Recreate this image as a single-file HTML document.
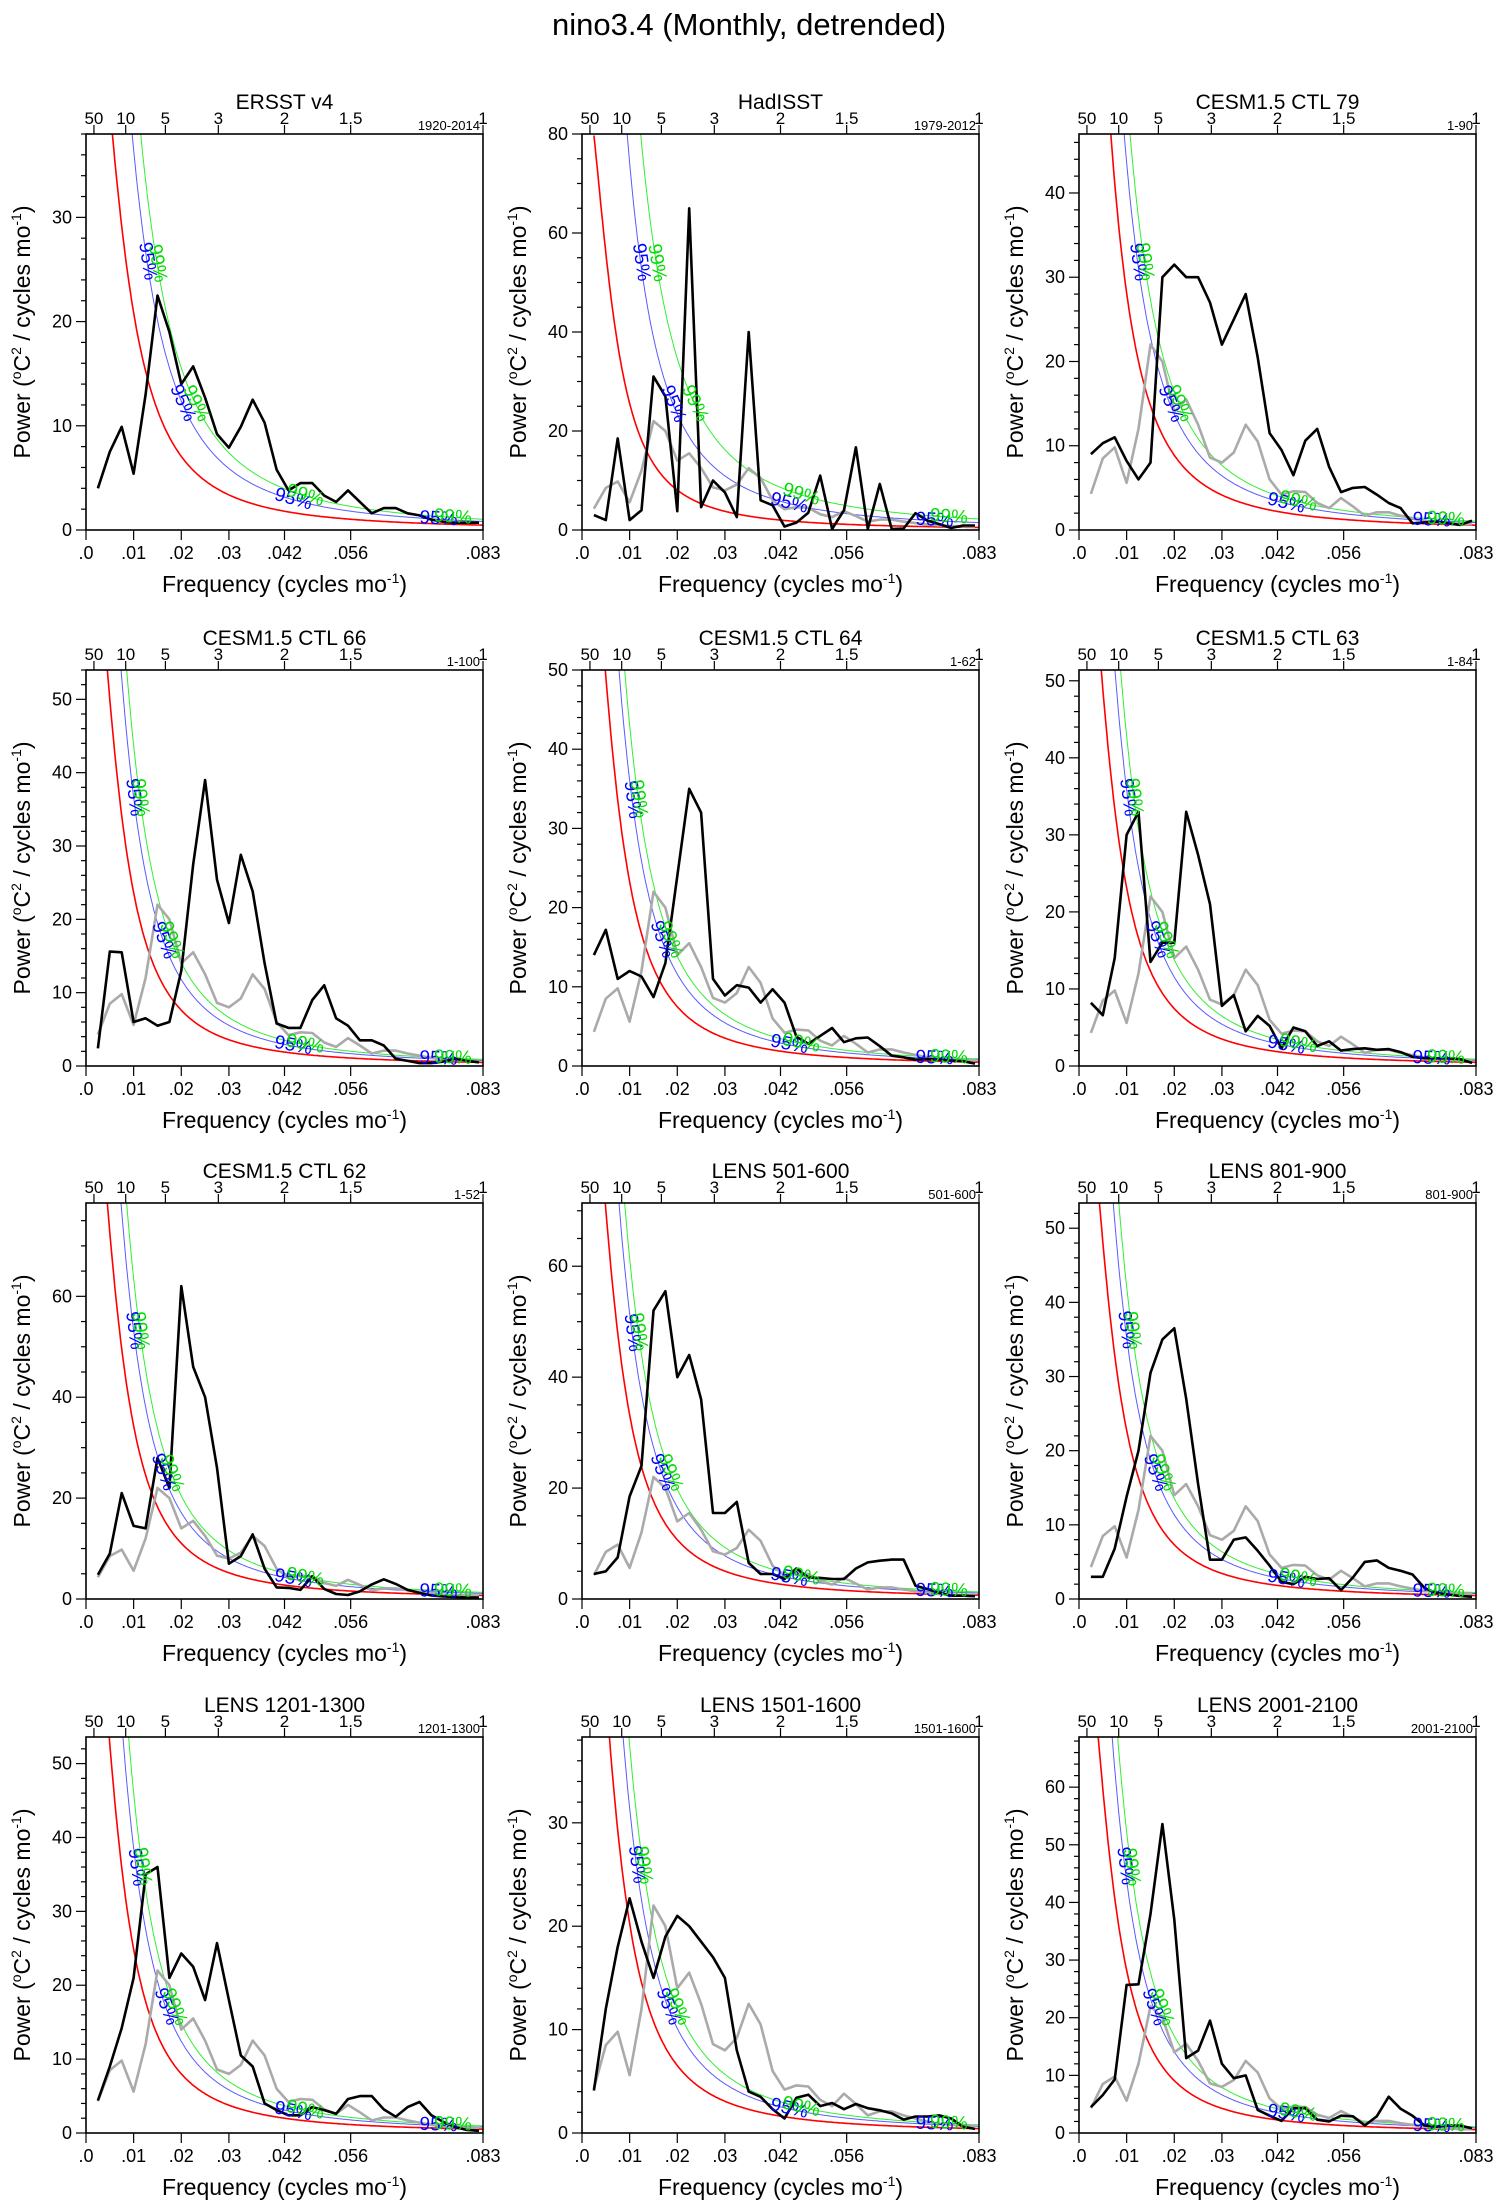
<!DOCTYPE html>
<html><head><meta charset="utf-8">
<style>
html,body{margin:0;padding:0;background:#fff;}
svg{display:block;font-family:"Liberation Sans",Arial,sans-serif;}
</style></head>
<body>
<svg id="c" width="1498" height="2205" viewBox="0 0 1498 2205" xmlns="http://www.w3.org/2000/svg">
<rect x="0" y="0" width="1498" height="2205" fill="#fff"/>
<text x="749" y="35" font-size="31" text-anchor="middle" fill="#000">nino3.4 (Monthly, detrended)</text>
</svg>
<script>
// frequency grid: f_k = freqStep*(k+1)
const freqStep = 0.0025;
const ersstV4 = [4.0,7.5,9.9,5.4,13,22.5,19,14,15.7,12.7,9.2,7.9,9.9,12.5,10.3,5.8,3.8,4.5,4.5,3.3,2.7,3.8,2.7,1.6,2.1,2.1,1.6,1.4,1.0,0.8,0.7,0.7,0.7];
const hadIsst = [3,2,18.5,2,4,31,27,3.8,65,4.6,10,7.6,2.6,40,6,5,0.7,1.5,3.5,11,0.2,4,16.7,0.2,9.3,0.2,0.3,3.4,1.9,1.2,0.4,0.9,0.9];
const grayObs = [4.3,8.5,9.8,5.6,12,22,20,14,15.5,12.5,8.6,8,9.2,12.5,10.5,6,4.2,4.6,4.5,3.2,2.6,3.8,2.8,1.7,2.1,2.1,1.7,1.4,1.1,0.9,0.8,0.7,0.7];
const ctl79 = [9,10.3,11,8.2,6,8,30,31.5,30,30,27,22,25,28,20.5,11.5,9.5,6.5,10.6,12,7.5,4.5,5,5.1,4.2,3.2,2.6,0.8,0.9,1.0,0.8,0.6,1.1];
const ctl66 = [2.4,15.6,15.5,6,6.5,5.5,6,13,27.5,39,25.4,19.5,28.8,23.8,14,5.8,5.2,5.2,9,11,6.5,5.5,3.5,3.5,2.8,1,0.7,0.4,0.4,0.6,1,0.7,0.5];
const ctl64 = [14,17.2,11,12,11.3,8.7,13,24,35,32,11,8.9,10.2,9.9,8,9.7,8,3.7,2.8,3.8,4.8,3,3.5,3.6,2.5,1.3,1.1,0.8,0.9,0.8,0.7,0.6,0.3];
const ctl63 = [8.2,6.6,14,30,33,13.5,16,16,33,27.4,21,7.8,9.2,4.5,6.5,5.2,2.3,5,4.5,2.6,3.2,2,2.2,2.3,2.1,2.2,1.8,1.2,1,1,1,0.9,0.4];
const ctl62 = [4.8,9,21,14.5,14,28,22,62,46,40,26,7,8.5,12.8,6,2.3,2.2,1.8,4.5,2,1,0.8,1.5,2.9,3.9,3,1.8,1.2,0.7,0.5,0.4,0.3,0.3];
const lens501 = [4.5,5,7.5,18.5,24,52,55.5,40,44,36,15.5,15.5,17.5,6.5,4.5,4.5,3.6,5.5,3.9,3.8,3.6,3.6,5.5,6.6,6.9,7.1,7.1,2.4,1.8,1.1,0.6,0.6,0.5];
const lens801 = [3,3,6.8,13.8,20,30.5,35,36.5,27,15.5,5.3,5.3,8,8.3,6.5,4.5,2.3,2,3,2.7,2.8,1.2,2.9,5,5.2,4.2,3.8,3.3,1.5,0.8,0.6,0.4,0.3];
const lens1201 = [4.4,9,14.2,21,35,36,21,24.3,22.5,18,25.7,18,10.5,9,4,3.1,2.4,2.4,3.5,3.1,2.6,4.6,5,5,3.2,2.2,3.5,4.2,2.4,1.5,0.8,0.4,0.3];
const lens1501 = [4.1,12,18,22.7,18.5,15,19,21,20,18.5,17,15,8,4,3.5,2.3,1.4,3.4,3.7,2.6,2.9,2.3,2.8,2.4,2.2,1.9,1.3,1.6,1.6,1.7,1.4,0.6,0.4];
const lens2001 = [4.5,6.6,9.3,25.7,25.8,38,53.6,37,13,14.3,19.5,12,9.5,10,4,3,2.1,4.3,4.3,2.3,2,3,2.9,1.3,2.9,6.3,4.2,3,1.3,1.1,1.3,1.3,0.8];

const panelTitles = ["ERSST v4","HadISST","CESM1.5 CTL 79","CESM1.5 CTL 66","CESM1.5 CTL 64","CESM1.5 CTL 63","CESM1.5 CTL 62","LENS 501-600","LENS 801-900","LENS 1201-1300","LENS 1501-1600","LENS 2001-2100"];
const panelPeriods = ["1920-2014","1979-2012","1-90","1-100","1-62","1-84","1-52","501-600","801-900","1201-1300","1501-1600","2001-2100"];
const panelSeries = [ersstV4,hadIsst,ctl79,ctl66,ctl64,ctl63,ctl62,lens501,lens801,lens1201,lens1501,lens2001];
const yMaxes = [38,80,47,54,50,51.4,78.5,71.4,53.4,53.6,38.3,68.7];
const yMajor = [10,20,10,10,10,10,20,20,10,10,10,10];
const yMinor = [2,5,2,2,2,2,5,5,2,2,2,2];
// red-noise (AR1) parameters
const redR = [0.955,0.962,0.962,0.96,0.96,0.96,0.96,0.96,0.96,0.96,0.96,0.96];
const redAt042 = [1.8,2.0,2.2,1.9,1.87,1.86,2.76,2.67,1.83,2.0,1.63,2.27];
const mult95 = [1.75,2.9,1.55,1.55,1.55,1.55,1.55,1.55,1.55,1.55,1.55,1.55];
const mult99 = [2.2,4.3,1.85,1.85,1.85,1.85,1.85,1.85,1.85,1.85,1.85,1.85];
const bottomTickF = [0,0.01,0.02,0.03,1/24,1/18,1/12];
const bottomTickText = [".0",".01",".02",".03",".042",".056",".083"];
const topPeriods = [50,10,5,3,2,1.5,1];
const topPeriodText = ["50","10","5","3","2","1.5","1"];

const NS="http://www.w3.org/2000/svg";
const svg=document.getElementById('c');
const colLeft=[86,582,1079], rowTop=[134,670,1203,1737], W=397, H=396, FMAX=1/12;

function mk(tag,attrs,parent){const e=document.createElementNS(NS,tag);for(const k in attrs)e.setAttribute(k,attrs[k]);(parent||svg).appendChild(e);return e;}

for(let p=0;p<12;p++){
  const L=colLeft[p%3], T=rowTop[Math.floor(p/3)], ymax=yMaxes[p];
  const g=mk('g',{});
  
  
  const X=f=>L+f/FMAX*W;
  const Y=v=>T+H-v/ymax*H;
  const clipId='clip'+p;
  const cp=mk('clipPath',{id:clipId},g);
  mk('rect',{x:L,y:T,width:W,height:H},cp);
  const r=redR[p], d42=1+r*r-2*r*Math.cos(2*Math.PI/24);
  const red=f=>redAt042[p]*d42/(1+r*r-2*r*Math.cos(2*Math.PI*f));
  const fStart = p===1?0.0025:0.00088;
  function curvePath(fn){let s='';for(let i=0;i<=400;i++){const f=fStart+(FMAX-fStart)*i/400;s+=(i?'L':'M')+X(f).toFixed(1)+' '+Y(Math.min(fn(f),ymax*1.5)).toFixed(1);}return s;}
  const cg=mk('g',{'clip-path':'url(#'+clipId+')'},g);
  const pr=mk('path',{d:curvePath(red),fill:'none',stroke:'#ff0000','stroke-width':1.6},cg);
  
  
  const pb=mk('path',{d:curvePath(f=>red(f)*mult95[p]),fill:'none',stroke:'#5a5aff','stroke-width':1},cg);
  
  
  const pgc=mk('path',{d:curvePath(f=>red(f)*mult99[p]),fill:'none',stroke:'#33ee33','stroke-width':1},cg);
  
  
  function seriesPath(arr){return arr.map((v,k)=>(k?'L':'M')+X(freqStep*(k+1)).toFixed(1)+' '+Y(v).toFixed(1)).join('');}
  if(p>0){
    const gp=mk('path',{d:seriesPath(grayObs),fill:'none',stroke:'#aaaaaa','stroke-width':2.6,'stroke-linejoin':'round'},cg);
    
    
  }
  const bp=mk('path',{d:seriesPath(panelSeries[p]),fill:'none',stroke:'#000','stroke-width':2.6,'stroke-linejoin':'round'},cg);
  
  
  // percentage labels
  function findF(fn,val){for(let f=0.001;f<0.08;f+=0.0001){if(fn(f)<=val)return f;}return 0.02;}
  function labelAt(fn,f,txt,col){
    const x=X(f),y=Y(fn(f)),x2=X(f+0.0005),y2=Y(fn(f+0.0005));
    let a=Math.atan2(y2-y,x2-x)*180/Math.PI;
    const t=mk('text',{x:x.toFixed(1),y:y.toFixed(1),'font-size':19,fill:col,'text-anchor':'middle','dominant-baseline':'middle',transform:'rotate('+a.toFixed(1)+' '+x.toFixed(1)+' '+y.toFixed(1)+')'},g);
    t.textContent=txt;
    
    
  }
  const f95=f=>red(f)*mult95[p], f99=f=>red(f)*mult99[p];
  [0.68,0.32].forEach(fr=>{labelAt(f95,findF(f95,fr*ymax),'95%','#0000ff');labelAt(f99,findF(f99,fr*ymax),'99%','#00dd00');});
  labelAt(f95,0.0435,'95%','#0000ff');labelAt(f99,0.046,'99%','#00dd00');
  labelAt(f95,0.074,'95%','#0000ff');labelAt(f99,0.077,'99%','#00dd00');
  // frame
  const fr=mk('rect',{x:L,y:T,width:W,height:H,fill:'none',stroke:'#000','stroke-width':1.6},g);
  
  
  // y ticks
  for(let v=0;v<=ymax+1e-6;v+=yMinor[p]){
    const major=Math.abs(v/yMajor[p]-Math.round(v/yMajor[p]))<1e-6;
    mk('line',{x1:L,x2:L-(major?10:5),y1:Y(v),y2:Y(v),stroke:'#000','stroke-width':1.2},g);
    if(major){const t=mk('text',{x:L-14,y:Y(v)+6,'font-size':18,'text-anchor':'end'},g);t.textContent=String(Math.round(v));
      
      }
  }
  // bottom ticks
  bottomTickF.forEach((f,i)=>{
    mk('line',{x1:X(f),x2:X(f),y1:T+H,y2:T+H+10,stroke:'#000','stroke-width':1.2},g);
    const t=mk('text',{x:X(f),y:T+H+29,'font-size':18,'text-anchor':'middle'},g);t.textContent=bottomTickText[i];
    
    
  });
  // top period ticks
  topPeriods.forEach((P,i)=>{
    const f=1/(12*P);
    mk('line',{x1:X(f),x2:X(f),y1:T,y2:T-9,stroke:'#000','stroke-width':1.2},g);
    const t=mk('text',{x:X(f),y:T-10,'font-size':17,'text-anchor':'middle'},g);t.textContent=topPeriodText[i];
    
    
  });
  const pt=mk('text',{x:L+W-3,y:T-4,'font-size':13,'text-anchor':'end'},g);pt.textContent=panelPeriods[p];
  
  
  const tt=mk('text',{x:L+W/2,y:T-25,'font-size':21,'text-anchor':'middle'},g);tt.textContent=panelTitles[p];
  
  
  // x title
  const xt=mk('text',{x:L+W/2,y:T+H+62,'font-size':23,'text-anchor':'middle'},g);
  xt.innerHTML='Frequency (cycles mo<tspan dy="-9" font-size="14">-1</tspan><tspan dy="9">)</tspan>';
  
  
  const cx=L-56, cy=T+H/2;
  const yt=mk('text',{x:cx,y:cy,'font-size':23,'text-anchor':'middle',transform:'rotate(-90 '+cx+' '+cy+')'},g);
  yt.innerHTML='Power (<tspan dy="-9" font-size="14">o</tspan><tspan dy="9">C</tspan><tspan dy="-9" font-size="14">2</tspan><tspan dy="9"> / cycles mo</tspan><tspan dy="-9" font-size="14">-1</tspan><tspan dy="9">)</tspan>';
  
  
}
</script>
</body></html>
